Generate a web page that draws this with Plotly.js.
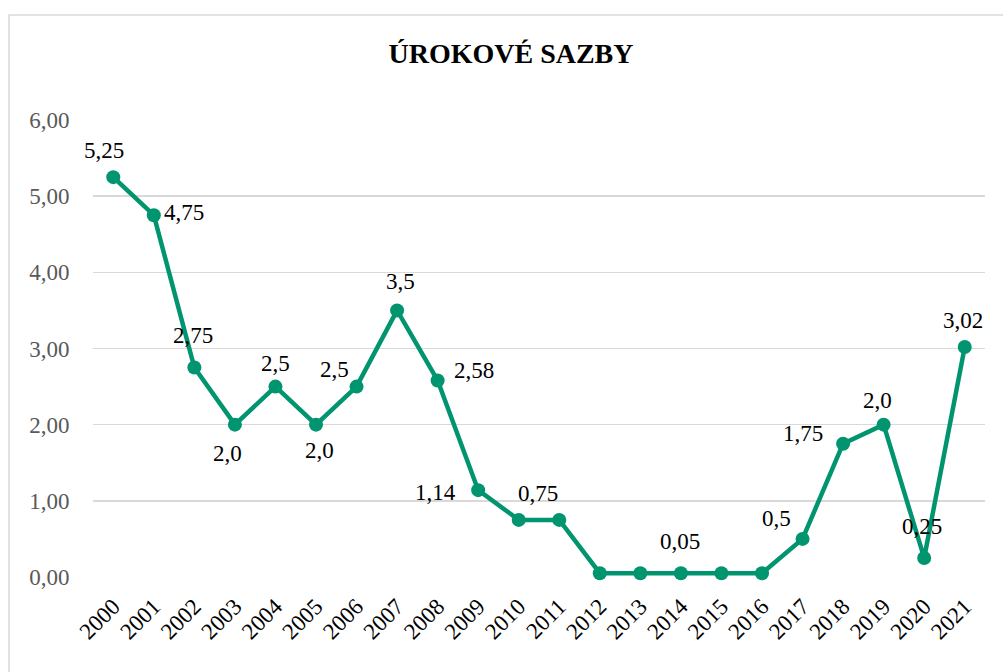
<!DOCTYPE html>
<html>
<head>
<meta charset="utf-8">
<script src="https://cdn.plot.ly/plotly-3.0.1.min.js"></script>
<style>
html,body{margin:0;padding:0;background:#fff;}
#chart{width:1003px;height:672px;}
</style>
</head>
<body>
<div id="chart"></div>
<script>
const years = ["2000","2001","2002","2003","2004","2005","2006","2007","2008","2009","2010","2011","2012","2013","2014","2015","2016","2017","2018","2019","2020","2021"];
const rates = [5.25,4.75,2.75,2.0,2.5,2.0,2.5,3.5,2.58,1.14,0.75,0.75,0.05,0.05,0.05,0.05,0.05,0.5,1.75,2.0,0.25,3.02];
const pointLabels = ["5,25","4,75","2,75","2,0","2,5","2,0","2,5","3,5","2,58","1,14","0,75","","","","0,05","","","0,5","1,75","2,0","0,25","3,02"];
const yTickVals = [0,1,2,3,4,5,6];
const yTickText = ["0,00","1,00","2,00","3,00","4,00","5,00","6,00"];

// label placement (style only): [xanchor, xshift, yshift]
const labelPlace = [
  ["center", -9, 27], ["left", 8, 3], ["center", -1, 32], ["center", -7, -29],
  ["center", 0, 23], ["center", 3, -26], ["center", -22, 17], ["center", 3, 29],
  ["left", 14, 10], ["right", -20, -2], ["center", 19, 26], ["center", 0, 0],
  ["center", 0, 0], ["center", 0, 0], ["center", -1, 32], ["center", 0, 0],
  ["center", 0, 0], ["center", -26, 20], ["right", -18, 10], ["center", -6, 24],
  ["center", -2, 31], ["center", -2, 26]
];

const green = "#00956F";
const serif = "Liberation Serif, Times New Roman, serif";

const trace = {
  type: "scatter",
  mode: "lines+markers",
  x: years,
  y: rates,
  line: {color: green, width: 4.5},
  marker: {color: green, size: 14},
  cliponaxis: false,
  hoverinfo: "x+y"
};

const annotations = [];
for (let i = 0; i < years.length; i++) {
  if (pointLabels[i] === "") continue;
  const p = labelPlace[i];
  annotations.push({
    x: i, y: rates[i], xref: "x", yref: "y",
    text: pointLabels[i], showarrow: false,
    xanchor: p[0], yanchor: "middle",
    xshift: p[1], yshift: p[2],
    font: {family: serif, size: 23, color: "#000"}
  });
}

const layout = {
  width: 1003,
  height: 672,
  margin: {l: 93, r: 18, t: 120, b: 95},
  paper_bgcolor: "#fff",
  plot_bgcolor: "#fff",
  showlegend: false,
  title: {
    text: "<b>ÚROKOVÉ SAZBY</b>",
    font: {family: serif, size: 28, color: "#000"},
    x: 0.4686, xref: "paper", xanchor: "center",
    y: 1 - 53/672, yref: "container", yanchor: "middle"
  },
  xaxis: {
    type: "category",
    range: [-0.5, 21.5],
    showgrid: false,
    zeroline: false,
    showline: false,
    tickangle: -45,
    ticks: "outside",
    ticklen: 6,
    tickcolor: "rgba(0,0,0,0)",
    tickfont: {family: serif, size: 23, color: "#000"}
  },
  yaxis: {
    range: [0, 6],
    tickvals: yTickVals,
    ticktext: yTickText,
    showgrid: true,
    gridcolor: "#d9d9d9",
    gridwidth: 1.5,
    zeroline: false,
    showline: false,
    ticks: "outside",
    ticklen: 18,
    tickcolor: "rgba(0,0,0,0)",
    tickfont: {family: serif, size: 23, color: "#595959"}
  },
  annotations: annotations,
  shapes: [{
    type: "rect",
    xref: "paper", yref: "paper",
    x0: (9 - 93) / 892, x1: 1.2,
    y0: -0.5, y1: (576.7 - 15) / 456.7,
    line: {color: "#d9d9d9", width: 1.5},
    fillcolor: "rgba(0,0,0,0)",
    layer: "below"
  }]
};

Plotly.newPlot("chart", [trace], layout, {displayModeBar: false, staticPlot: true});
</script>
</body>
</html>
